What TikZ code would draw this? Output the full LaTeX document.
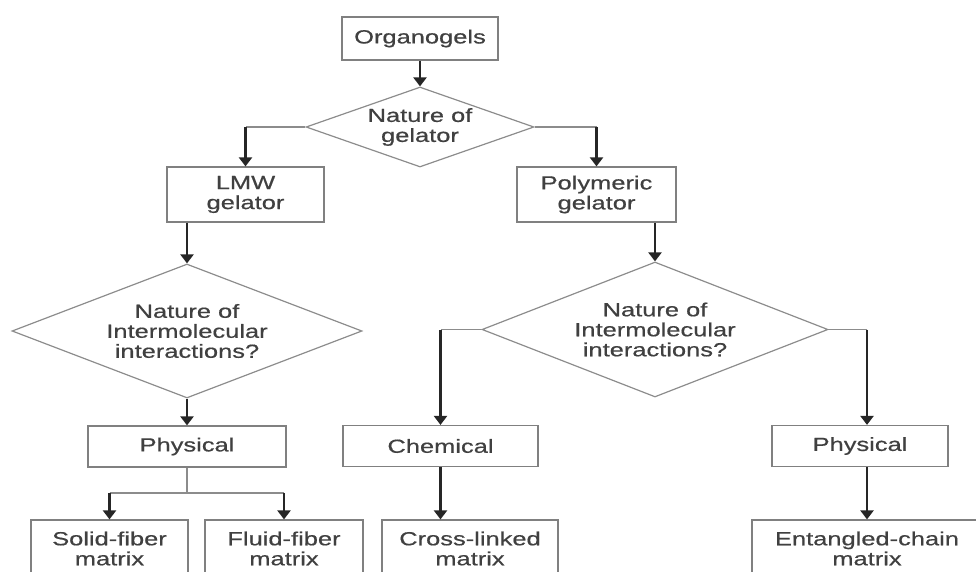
\documentclass[tikz,border=0pt]{standalone}
\usepackage{fontspec}
\setmainfont{Liberation Sans}[FakeStretch=1.34,FakeBold=0.6]
\usetikzlibrary{shapes.geometric,arrows.meta}

\begin{document}
\begin{tikzpicture}[x=1pt,y=-1pt,
  font=\fontsize{19}{20}\selectfont,
  box/.style={draw=black!50,line width=1.2pt,text=black!75,align=center,inner sep=0pt,minimum height=41pt},
  decision/.style={diamond,draw=black!45,line width=1.2pt,text=black!75,align=center,inner sep=0pt},
  arr/.style={draw=black!85,line width=2.6pt,-{Triangle[width=13pt,length=9pt]}},
  link/.style={draw=black!45,line width=1.2pt}]
\useasboundingbox (0,0) rectangle (976,572);
\clip (0,0) rectangle (976,572);
\node[box,minimum width=156pt,minimum height=43pt] (org) at (420,38.5) {Organogels};
\node[decision,minimum width=228pt,minimum height=80pt,aspect=2.85] (nat) at (420,127) {Nature of\\gelator};
\node[box,minimum width=157pt,minimum height=55pt] (lmw) at (245.5,194.5) {LMW\\gelator};
\node[box,minimum width=159pt,minimum height=55pt] (poly) at (596.5,194.5) {Polymeric\\gelator};
\node[decision,minimum width=350pt,minimum height=134pt,aspect=2.61] (interL) at (187,331) {Nature of\\Intermolecular\\interactions?};
\node[decision,minimum width=346pt,minimum height=135pt,aspect=2.56] (interR) at (655,329.5) {Nature of\\Intermolecular\\interactions?};
\node[box,minimum width=198pt] (physL) at (187,446.5) {Physical};
\node[box,minimum width=195pt] (chem) at (440.5,446) {Chemical};
\node[box,minimum width=176pt] (physR) at (860,446) {Physical};
\node[box,minimum width=157pt,minimum height=57pt] (solid) at (109.5,548.5) {Solid-fiber\\matrix};
\node[box,minimum width=158pt,minimum height=57pt] (fluid) at (284,548.5) {Fluid-fiber\\matrix};
\node[box,minimum width=176pt,minimum height=57pt] (cross) at (470,548.5) {Cross-linked\\matrix};
\node[box,minimum width=230pt,minimum height=57pt] (ent) at (867,548.5) {Entangled-chain\\matrix};
\coordinate (split) at (187,493);
% top levels
\draw[arr] (org.south) -- (nat.north);
\draw[link] (nat.west) -- (nat.west -| lmw);
\draw[arr] (nat.west -| lmw) -- (lmw.north);
\draw[link] (nat.east) -- (nat.east -| poly);
\draw[arr] (nat.east -| poly) -- (poly.north);
\draw[arr] (lmw.south -| interL) -- (interL.north);
\draw[arr] (poly.south -| interR) -- (interR.north);
% LMW branch
\draw[arr] (interL.south) -- (physL.north);
\draw[link] (physL.south) -- (split);
\draw[link] (split -| solid) -- (split -| fluid);
\draw[arr] (split -| solid) -- (solid.north);
\draw[arr] (split -| fluid) -- (fluid.north);
% polymeric branch
\draw[link] (interR.west) -- (interR.west -| chem);
\draw[arr] (interR.west -| chem) -- (chem.north);
\draw[arr] (chem.south) -- (chem.south |- cross.north);
\draw[link] (interR.east) -- (interR.east -| ent);
\draw[arr] (interR.east -| ent) -- (physR.north -| ent);
\draw[arr] (physR.south -| ent) -- (ent.north);
\end{tikzpicture}
\end{document}
